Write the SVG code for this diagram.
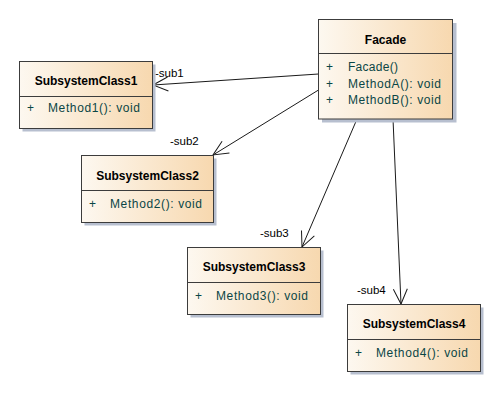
<svg xmlns="http://www.w3.org/2000/svg" width="501" height="405" viewBox="0 0 501 405">
<style>
.box{fill:url(#g);stroke:#3c3c3c;stroke-width:1}
.sh{fill:#b7bfcf}
.sep{stroke:#3c3c3c;stroke-width:1}
.t{font-family:"Liberation Sans",Arial,sans-serif;font-size:12px;font-weight:bold;fill:#000;text-anchor:middle}
.m{font-family:"Liberation Sans",Arial,sans-serif;font-size:12px;fill:#0a4646}
.l{font-family:"Liberation Sans",Arial,sans-serif;font-size:11.5px;fill:#000}
.c{stroke:#1a1a1a;stroke-width:1;fill:none;marker-end:url(#a)}
</style>
<defs>
<linearGradient id="g" x1="0" y1="0" x2="1" y2="0">
<stop offset="0" stop-color="#fdf8f0"/>
<stop offset="1" stop-color="#f7d8af"/>
</linearGradient>
<marker id="a" markerUnits="userSpaceOnUse" markerWidth="20" markerHeight="20" viewBox="-17 -10 20 20" refX="0" refY="0" orient="auto">
<path d="M-15,-7 L0,0 L-15,7" fill="none" stroke="#1a1a1a" stroke-width="1"/>
</marker>
</defs>
<rect width="501" height="405" fill="#fff"/>
<g id="connectors">
<line class="c" x1="318.5" y1="74" x2="153" y2="85"/>
<line class="c" x1="318.5" y1="90" x2="213" y2="155"/>
<line class="c" x1="357" y1="119" x2="302" y2="247"/>
<line class="c" x1="393" y1="119" x2="401" y2="304"/>
<text class="l" x="155" y="77">-sub1</text>
<text class="l" x="170" y="145">-sub2</text>
<text class="l" x="260" y="237">-sub3</text>
<text class="l" x="357" y="294">-sub4</text>
</g>
<g id="Facade">
<rect class="sh" x="322" y="23" width="134.5" height="99.5"/>
<rect class="box" x="318.5" y="19.5" width="134" height="99.5"/>
<line class="sep" x1="318.5" y1="53.5" x2="452.5" y2="53.5"/>
<text class="t" x="385.5" y="44">Facade</text>
<text class="m" x="326" y="71">+</text>
<text class="m" x="348" y="71" textLength="50" lengthAdjust="spacing">Facade()</text>
<text class="m" x="326" y="88">+</text>
<text class="m" x="348" y="88" textLength="93" lengthAdjust="spacing">MethodA(): void</text>
<text class="m" x="326" y="104">+</text>
<text class="m" x="348" y="104" textLength="93" lengthAdjust="spacing">MethodB(): void</text>
</g>
<g id="SubsystemClass1">
<rect class="sh" x="22.5" y="64.5" width="133" height="67"/>
<rect class="box" x="19.5" y="61.5" width="133" height="67"/>
<line class="sep" x1="19.5" y1="96.5" x2="152.5" y2="96.5"/>
<text class="t" x="86" y="85">SubsystemClass1</text>
<text class="m" x="27" y="112">+</text>
<text class="m" x="48" y="112" textLength="92" lengthAdjust="spacing">Method1(): void</text>
</g>
<g id="SubsystemClass2">
<rect class="sh" x="84.5" y="158.5" width="132" height="67"/>
<rect class="box" x="81.5" y="155.5" width="132" height="67"/>
<line class="sep" x1="81.5" y1="190.5" x2="213.5" y2="190.5"/>
<text class="t" x="147.5" y="180">SubsystemClass2</text>
<text class="m" x="89" y="208">+</text>
<text class="m" x="110" y="208" textLength="92" lengthAdjust="spacing">Method2(): void</text>
</g>
<g id="SubsystemClass3">
<rect class="sh" x="190.5" y="250.5" width="133" height="67"/>
<rect class="box" x="187.5" y="247.5" width="133" height="67"/>
<line class="sep" x1="187.5" y1="282.5" x2="320.5" y2="282.5"/>
<text class="t" x="254" y="271">SubsystemClass3</text>
<text class="m" x="195" y="300">+</text>
<text class="m" x="216" y="300" textLength="92" lengthAdjust="spacing">Method3(): void</text>
</g>
<g id="SubsystemClass4">
<rect class="sh" x="350.5" y="307.5" width="133" height="67"/>
<rect class="box" x="347.5" y="304.5" width="133" height="67"/>
<line class="sep" x1="347.5" y1="339.5" x2="480.5" y2="339.5"/>
<text class="t" x="414" y="328">SubsystemClass4</text>
<text class="m" x="355" y="357">+</text>
<text class="m" x="376" y="357" textLength="92" lengthAdjust="spacing">Method4(): void</text>
</g>
</svg>
